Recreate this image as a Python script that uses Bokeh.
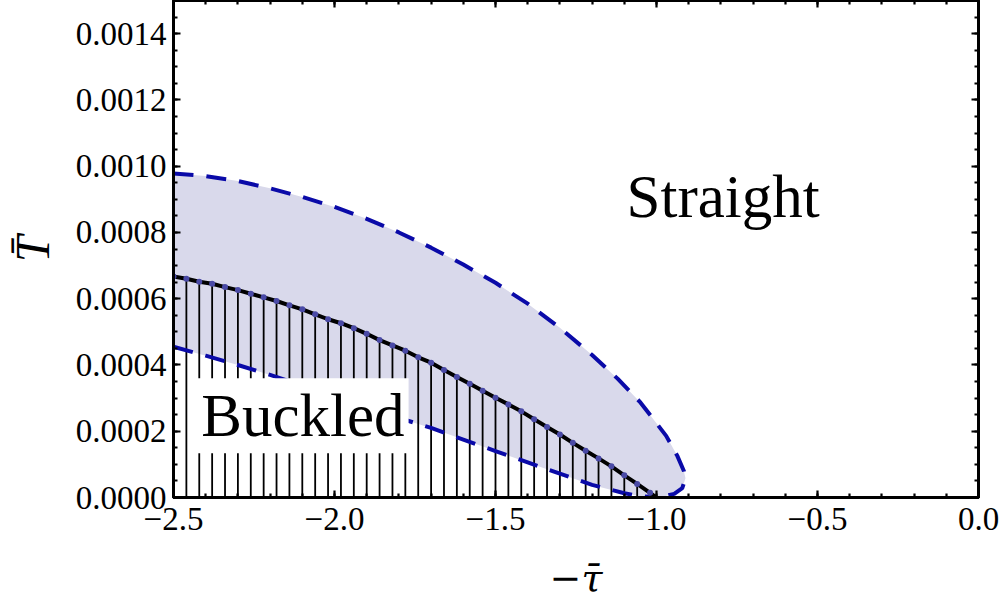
from bokeh.plotting import figure
from bokeh.models import (Range1d, LinearAxis, SingleIntervalTicker, NumeralTickFormatter,
                          CustomJSTickFormatter, Label, ColumnDataSource)
from bokeh.embed import file_html
from bokeh.resources import INLINE

# Stability boundary samples: buckling load along -tau
tau_samples = [-2.50, -2.46, -2.42, -2.38, -2.34, -2.30, -2.26, -2.22, -2.18, -2.14,
               -2.10, -2.06, -2.02, -1.98, -1.94, -1.90, -1.86, -1.82, -1.78, -1.74,
               -1.70, -1.66, -1.62, -1.58, -1.54, -1.50, -1.46, -1.42, -1.38, -1.34,
               -1.30, -1.26, -1.22, -1.18, -1.14, -1.10, -1.06, -1.02]
T_samples = [0.000667, 0.000660, 0.000651, 0.000645, 0.000635, 0.000626, 0.000615, 0.000604,
             0.000593, 0.000580, 0.000568, 0.000553, 0.000538, 0.000526, 0.000511, 0.000494,
             0.000475, 0.000459, 0.000443, 0.000423, 0.000407, 0.000385, 0.000364, 0.000343,
             0.000322, 0.000301, 0.000281, 0.000260, 0.000236, 0.000213, 0.000190, 0.000165,
             0.000141, 0.000118, 0.000094, 0.000067, 0.000041, 0.000014]
# critical point where the boundary meets T = 0
tau_end = [-1.00]
T_end = [0.0]

# Upper bound of the uncertainty band (runs round the tip back to T = 0)
upper_tau = [-2.50, -2.40, -2.30, -2.20, -2.10, -2.00, -1.90, -1.80, -1.70, -1.60,
             -1.50, -1.40, -1.30, -1.20, -1.12, -1.05, -0.97, -0.935, -0.915, -0.910,
             -0.920, -0.945, -0.975, -1.00]
upper_T = [0.000978, 0.000970, 0.000955, 0.000933, 0.000907, 0.000877, 0.000841, 0.000800,
           0.000754, 0.000703, 0.000648, 0.000585, 0.000512, 0.000430, 0.000358, 0.000287,
           0.000186, 0.000125, 0.000080, 0.000058, 0.000028, 0.000011, 0.000004, 0.0]

# Lower bound of the uncertainty band
lower_tau = [-2.50, -2.40, -2.30, -2.20, -2.10, -2.00, -1.90, -1.80, -1.70, -1.60,
             -1.50, -1.40, -1.30, -1.20, -1.10, -1.05, -1.00]
lower_T = [0.000455, 0.000428, 0.000400, 0.000370, 0.000338, 0.000305, 0.000272, 0.000240,
           0.000210, 0.000175, 0.000140, 0.000106, 0.000072, 0.000038, 0.000013, 0.000004, 0.0]

SERIF = "Liberation Serif"
BLUE = "#0a0aa8"

p = figure(width=1005, height=602,
           x_range=Range1d(-2.5, 0.0), y_range=Range1d(0.0, 0.0015),
           output_backend="svg", toolbar_location=None,
           min_border_left=173, min_border_right=27,
           min_border_top=0, min_border_bottom=104)
p.grid.visible = False
p.outline_line_color = "black"
p.outline_line_width = 3
p.background_fill_color = "white"
p.border_fill_color = "white"

# shaded band between the two dashed bounds
band_x = upper_tau + lower_tau[::-1]
band_y = upper_T + lower_T[::-1]
p.patch(band_x, band_y, fill_color="#d9d9eb", line_color=None)

# vertical hatching under the stability boundary
src = ColumnDataSource(dict(x=tau_samples, y=T_samples, y0=[0.0] * len(T_samples)))
p.segment(x0="x", y0="y0", x1="x", y1="y", source=src, line_color="black", line_width=1.8)

# dashed bounds
p.line(upper_tau, upper_T, line_color=BLUE, line_width=4, line_dash="20 13")
p.line(lower_tau, lower_T, line_color=BLUE, line_width=4, line_dash="20 13")

# stability boundary with sample markers
p.line(tau_samples + tau_end, T_samples + T_end, line_color="black", line_width=4)
p.scatter("x", "y", source=src, size=6, fill_color="#4a4aa6", line_color=None)

# axes
x_ticker = SingleIntervalTicker(interval=0.5, num_minor_ticks=5)
y_ticker = SingleIntervalTicker(interval=0.0002, num_minor_ticks=4)
x_fmt = CustomJSTickFormatter(code="""
    const s = Math.abs(tick).toFixed(1);
    return (tick < -1e-9 ? '\\u2212' : '') + s;
""")
blank = CustomJSTickFormatter(code="return '';")


def style(ax):
    ax.axis_line_color = "black"
    ax.axis_line_width = 3
    ax.major_tick_in = 7
    ax.major_tick_out = 0
    ax.minor_tick_in = 4
    ax.minor_tick_out = 0
    ax.major_tick_line_width = 2.2
    ax.minor_tick_line_width = 2.2
    ax.major_tick_line_color = "black"
    ax.minor_tick_line_color = "black"
    ax.major_label_text_font = SERIF
    ax.major_label_text_font_size = "33px"
    ax.major_label_text_color = "black"
    ax.axis_label_text_color = "black"
    ax.axis_label_text_font_style = "italic"


xa = p.xaxis[0]
xa.ticker = x_ticker
xa.formatter = x_fmt
style(xa)
xa.major_label_standoff = 10
xa.axis_label = "\u2212\u03c4\u0304"
xa.axis_label_text_font = "DejaVu Serif"
xa.axis_label_text_font_size = "38px"
xa.axis_label_standoff = 23

ya = p.yaxis[0]
ya.ticker = y_ticker
ya.formatter = NumeralTickFormatter(format="0.0000")
style(ya)
ya.major_label_standoff = 7
ya.axis_label = "T\u0304"
ya.axis_label_text_font = SERIF
ya.axis_label_text_font_size = "48px"
ya.axis_label_standoff = 14

top = LinearAxis(ticker=x_ticker, formatter=blank)
style(top)
p.add_layout(top, "above")
right = LinearAxis(ticker=y_ticker, formatter=blank)
style(right)
p.add_layout(right, "right")

# region labels
p.add_layout(Label(x=-1.093, y=0.000907, text="Straight", text_font=SERIF,
                   text_font_size="61px", text_color="black",
                   text_baseline="alphabetic", text_align="left"))
p.add_layout(Label(x=-2.098, y=0.000247, text="Buckled", text_font=SERIF,
                   text_font_size="61px", text_color="black",
                   text_baseline="alphabetic", text_align="center",
                   background_fill_color="white", padding=4))

open("out.html", "w").write(file_html(p, INLINE))
